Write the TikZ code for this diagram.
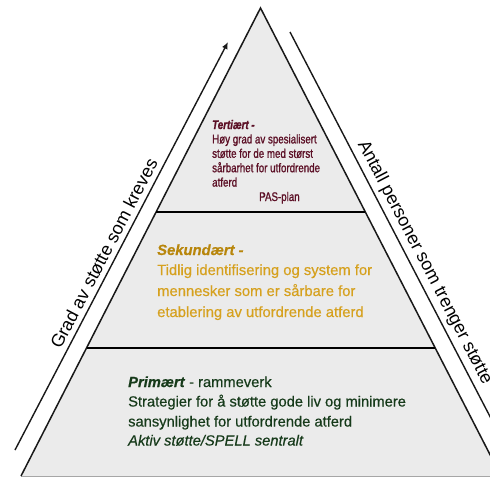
\documentclass[tikz,border=0pt]{standalone}
\usepackage{fontspec}
\setmainfont{Liberation Sans}
\newfontfamily\narrowfont[FakeStretch=0.78,FakeBold=1.2]{Liberation Sans}
\newfontfamily\bodyfont[FakeBold=0.4]{Liberation Sans}
\usetikzlibrary{arrows.meta,calc}
\definecolor{trifill}{HTML}{EBEBEB}
\definecolor{tertc}{HTML}{5C1026}
\definecolor{sekhead}{HTML}{B8860B}
\definecolor{sekc}{HTML}{D6A11E}
\definecolor{primc}{HTML}{163A1A}
\begin{document}
\begin{tikzpicture}[x=1pt,y=-1pt,
  edge/.style={draw=black!90, line width=1.5pt, line join=miter},
  divider/.style={draw=black, line width=2pt},
  sideline/.style={draw=black!90, line width=1.4pt},
  sidelabel/.style={anchor=base, inner sep=0pt, font=\fontsize{18}{20}\selectfont},
  tert/.style={anchor=base west, inner sep=0pt, text=tertc, font=\narrowfont\fontsize{12.5}{14}\selectfont},
  sek/.style={anchor=base west, inner sep=0pt, text=sekc, font=\bodyfont\fontsize{14.8}{18}\selectfont},
  prim/.style={anchor=base west, inner sep=0pt, text=primc, font=\bodyfont\fontsize{14.7}{18}\selectfont}]
\useasboundingbox (0,0) rectangle (490,479);
\clip (0,0) rectangle (490,479);
\fill[white] (0,0) rectangle (490,479);
% pyramid
\coordinate (apex) at (260.5,8);
\coordinate (bl) at (21,476);
\coordinate (br) at (501,476);
\fill[trifill] (apex) -- (bl) -- (br) -- cycle;
\draw[black!35, line width=1pt] (bl) -- (br);
\draw[edge] (bl) -- (apex) -- (br);
\coordinate (d1l) at ($(apex)!0.4359!(bl)$);
\coordinate (d1r) at ($(apex)!0.4359!(br)$);
\coordinate (d2l) at ($(apex)!0.7265!(bl)$);
\coordinate (d2r) at ($(apex)!0.7265!(br)$);
\draw[divider] (d1l) -- (d1r);
\draw[divider] (d2l) -- (d2r);
% side arrow and line
\coordinate (a1) at (15,450);
\coordinate (a2) at (228,42);
\draw[sideline, -{Latex[length=7pt,width=6pt]}] (a1) -- (a2);
\coordinate (o1) at (290,32);
\coordinate (o2) at (510,455);
\draw[sideline] (o1) -- (o2);
\node[sidelabel, rotate=62.43] (lgrad) at (109.5,256.4) {Grad av støtte som kreves};
\node[sidelabel, rotate=-62.52] (lant) at (420.5,264.7) {Antall personer som trenger støtte};
% tertiary
\node[tert] (t1) at (212,129) {\textbf{\textit{Tertiært -}}};
\node[tert] (t2) at (212,143.4) {Høy grad av spesialisert};
\node[tert] (t3) at (212,157.8) {støtte for de med størst};
\node[tert] (t4) at (212,172.2) {sårbarhet for utfordrende};
\node[tert] (t5) at (212,186.6) {atferd};
\node[tert] (t6) at (259,201) {PAS-plan};
% secondary
\node[sek, text=sekhead] (s1) at (157,255) {\textbf{\textit{Sekundært -}}};
\node[sek] (s2) at (157,275) {Tidlig identifisering og system for};
\node[sek] (s3) at (157,296) {mennesker som er sårbare for};
\node[sek] (s4) at (157,317) {etablering av utfordrende atferd};
% primary
\node[prim] (p1) at (128,387) {\textbf{\textit{Primært}} - rammeverk};
\node[prim] (p2) at (128,406.5) {Strategier for å støtte gode liv og minimere};
\node[prim] (p3) at (128,426.5) {sansynlighet for utfordrende atferd};
\node[prim] (p4) at (128,445.5) {\textit{Aktiv støtte/SPELL sentralt}};
\end{tikzpicture}
\end{document}
